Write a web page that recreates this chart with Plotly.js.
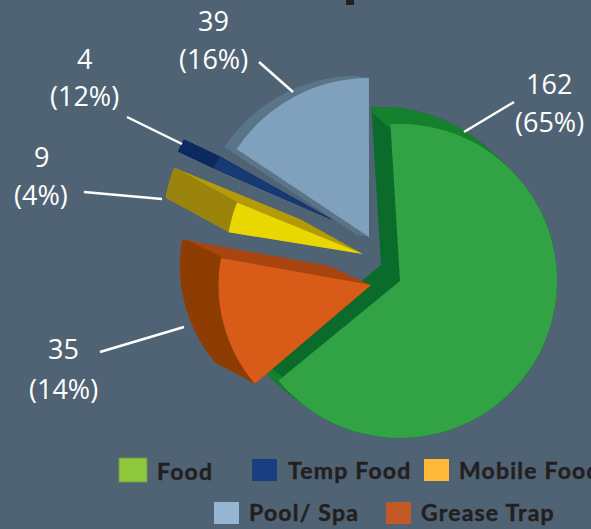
<!DOCTYPE html>
<html><head><meta charset="utf-8">
<script src="https://cdn.plot.ly/plotly-3.0.1.min.js"></script>
<style>
html,body{margin:0;padding:0;background:#506374;overflow:hidden}
#c{width:591px;height:529px}
.annotation-text[style*="Lato"]{letter-spacing:1.2px;stroke:#231f20;stroke-width:.45px}
</style></head><body><div id="c"></div>
<script>
// ---- data ----
var categories = ['Food','Temp Food','Mobile Food','Pool/ Spa','Grease Trap'];
var values     = [162, 4, 9, 39, 35];
var percents   = ['65%','12%','4%','16%','14%'];
var total = values.reduce(function(a,b){return a+b;},0);

// ---- styling / layout ----
var W=591,H=529;
var legendColors = ['#8fc83c','#1a3f80','#feb939','#94b6d2','#c15a24'];
// draw order: back to front, each with exploded-slice geometry
var slices = [
 {i:0,start:-3.5, front:[400,281,157], back:[381,265,158], face:'#31a344', wall:'#0a6b2a', arc:'#15812f'},
 {i:3,start:303.6,front:[369,237,159], back:[357,235,159], face:'#7fa1bd', wall:'#5a7489', arc:'#5a7489'},
 {i:1,start:293.5,front:[333,220,130], back:[299,204,132], face:'#173a75', wall:'#0a2558', arc:'#0d2a60'},
 {i:2,start:279.2,front:[363,254,136], back:[302,220,138], face:'#e8d800', wall:'#b39b0a', arc:'#9a840c'},
 {i:4,start:229.6,front:[371,285,152.5], back:[330,266,150], face:'#d95b18', wall:'#a84510', arc:'#8d3c02'}
];
function pie(i,start,g,color,hole){
  var cx=g[0],cy=g[1],r=g[2];
  return {type:'pie',values:[values[i],total-values[i]],labels:[categories[i],'rest'],sort:false,
    direction:'clockwise',rotation:start,hole:hole||0,textinfo:'none',hoverinfo:'skip',showlegend:false,
    domain:{x:[(cx-r)/W,(cx+r)/W],y:[1-(cy+r)/H,1-(cy-r)/H]},
    marker:{colors:[color,'rgba(0,0,0,0)'],line:{width:0}}};
}
function lerp(a,b,t){return [a[0]+(b[0]-a[0])*t,a[1]+(b[1]-a[1])*t,a[2]+(b[2]-a[2])*t];}
var data=[];
slices.forEach(function(s){
  var dist=Math.hypot(s.front[0]-s.back[0],s.front[1]-s.back[1]);
  var n=Math.ceil(dist/1.5),k;
  for(k=0;k<=n;k++) data.push(pie(s.i,s.start,lerp(s.back,s.front,1-k/n),s.wall));
  for(k=0;k<=n;k++) data.push(pie(s.i,s.start,lerp(s.back,s.front,1-k/n),s.arc,0.965));
  data.push(pie(s.i,s.start,s.front,s.face));
});

var ann=[],shapes=[];
function text(x,y,t,size,color,bold,anchor){
  ann.push({xref:'paper',yref:'paper',x:x/W,y:1-y/H,text:t,showarrow:false,xanchor:anchor||'center',yanchor:'middle',
    font:{family:bold?'Lato':'"Open Sans"',size:size,color:color,weight:bold?700:400}});
}
function line(a,b,c,d){shapes.push({type:'line',xref:'paper',yref:'paper',x0:a/W,y0:1-b/H,x1:c/W,y1:1-d/H,line:{color:'#ffffff',width:2.5}});}
function box(a,b,c,d,col,border){shapes.push({type:'rect',xref:'paper',yref:'paper',x0:a/W,y0:1-b/H,x1:c/W,y1:1-d/H,fillcolor:col,line:{width:border?1:0,color:border||col}});}

var labelPos=[[549,84,122],[84,58,96],[41,157,195],[213,20,59],[63,348,388]];
labelPos.forEach(function(p,i){
  text(p[0],p[1],String(values[i]),27,'#ffffff');
  text(p[0],p[2],'('+percents[i]+')',27,'#ffffff');
});
line(464,132,514,102); line(259,62,293,92); line(127,117,182,144); line(84,192,162,199); line(100,352,184,327);

var legendPos=[[119,458,147,482,155,471],[252,459,277,481,286,470],[424,459,449,481,457,470],[214,502,239,524,247,512],[386,502,411,524,419,512]];
legendPos.forEach(function(p,i){
  box(p[0],p[1],p[2],p[3],legendColors[i],i===0?'#6f9a45':null);
  text(p[4],p[5],categories[i],23,'#231f20',true,'left');
});
box(346,0,354,5,'#231f20');

Plotly.newPlot('c',data,{width:W,height:H,margin:{l:0,r:0,t:0,b:0},paper_bgcolor:'#506374',plot_bgcolor:'#506374',
  showlegend:false,annotations:ann,shapes:shapes},{staticPlot:true,displayModeBar:false});
</script></body></html>
